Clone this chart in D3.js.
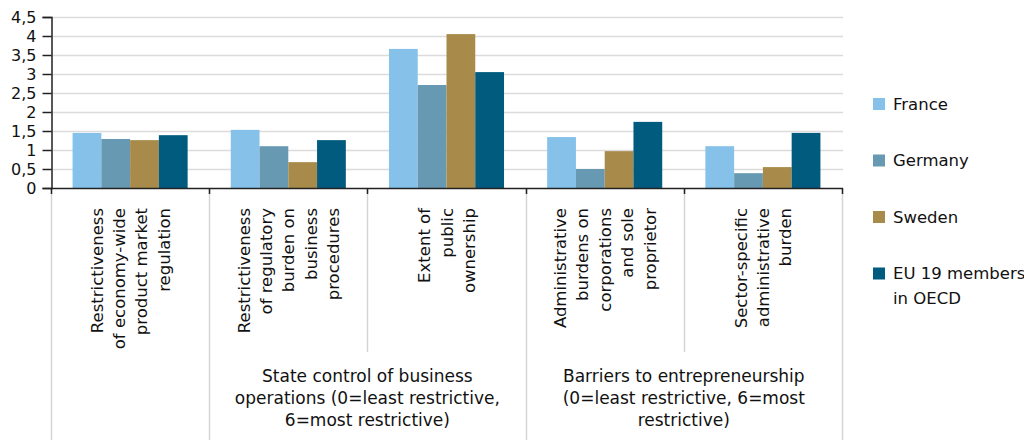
<!DOCTYPE html>
<html><head><meta charset="utf-8">
<script src="https://cdn.jsdelivr.net/npm/d3@7"></script>
<style>body{margin:0;background:#fff}svg{display:block}</style>
</head><body><svg id="c" width="1024" height="440"></svg>
<script>
// ---- data ----
const categoryLines = [
  ["Restrictiveness","of economy-wide","product market","regulation"],
  ["Restrictiveness","of regulatory","burden on","business","procedures"],
  ["Extent of","public","ownership"],
  ["Administrative","burdens on","corporations","and sole","proprietor"],
  ["Sector-specific","administrative","burden"]
];
const seriesNames = ["France","Germany","Sweden","EU 19 members in OECD"];
const legendLines = [["France"],["Germany"],["Sweden"],["EU 19 members","in OECD"]];
const france  = [1.45, 1.53, 3.66, 1.34, 1.10];
const germany = [1.29, 1.10, 2.71, 0.50, 0.39];
const sweden  = [1.26, 0.68, 4.05, 0.97, 0.55];
const eu19    = [1.39, 1.26, 3.05, 1.74, 1.45];
const seriesColors = ["#85c1e9", "#6899b2", "#a88a4a", "#005b7e"];
const yTicks = [0, 0.5, 1, 1.5, 2, 2.5, 3, 3.5, 4, 4.5];
const yTickLabels = ["0","0,5","1","1,5","2","2,5","3","3,5","4","4,5"];
const groupLines = [
  ["State control of business","operations (0=least restrictive,","6=most restrictive)"],
  ["Barriers to entrepreneurship","(0=least restrictive, 6=most","restrictive)"]
];
const groupSpans = [[1, 2], [3, 4]]; // category index ranges
const subSeparators = [2, 4]; // boundaries (left side of category) that stop short

// ---- layout ----
const W = 1024, H = 440;
const plotLeft = 51, plotRight = 842, plotTop = 17, zeroY = 188;
const FONT = "DejaVu Sans";
const svg = d3.select("#c");
const seriesData = [france, germany, sweden, eu19];
const catIdx = d3.range(categoryLines.length);

const x = d3.scaleBand().domain(catIdx).range([plotLeft, plotRight]).paddingInner(0).paddingOuter(0);
const xs = d3.scaleBand().domain(d3.range(seriesNames.length)).range([0, x.bandwidth()]).paddingInner(0).paddingOuter(0.75);
const y = d3.scaleLinear().domain([0, 4.5]).range([zeroY, plotTop]);

// gridlines
svg.append("g").selectAll("line").data(yTicks.filter(d => d > 0)).join("line")
  .attr("x1", plotLeft).attr("x2", plotRight + 1)
  .attr("y1", d => Math.round(y(d)) + 0.5).attr("y2", d => Math.round(y(d)) + 0.5)
  .attr("stroke", "#dcdcdc").attr("stroke-width", 1.5);

// bars
const gBars = svg.append("g");
seriesData.forEach((vals, s) => {
  gBars.append("g").selectAll("rect").data(vals).join("rect")
    .attr("x", (d, i) => x(i) + xs(s))
    .attr("width", xs.bandwidth())
    .attr("y", d => y(d))
    .attr("height", d => y(0) - y(d))
    .attr("fill", seriesColors[s]);
});

// vertical separators below axis
const boundaries = d3.range(categoryLines.length + 1);
const bx = b => b < categoryLines.length ? x(b) : x(b - 1) + x.bandwidth();
svg.append("g").selectAll("line").data(boundaries).join("line")
  .attr("x1", b => Math.round(bx(b)) + 0.5).attr("x2", b => Math.round(bx(b)) + 0.5)
  .attr("y1", zeroY).attr("y2", b => subSeparators.includes(b) ? 352 : H)
  .attr("stroke", "#d4d4d4").attr("stroke-width", 1.5);
// dark ticks
svg.append("g").selectAll("line").data(boundaries).join("line")
  .attr("x1", b => Math.round(bx(b)) + 0.5).attr("x2", b => Math.round(bx(b)) + 0.5)
  .attr("y1", zeroY).attr("y2", zeroY + 6)
  .attr("stroke", "#222").attr("stroke-width", 1.5);

// x axis line
svg.append("line").attr("x1", plotLeft).attr("x2", plotRight + 1)
  .attr("y1", zeroY + 0.5).attr("y2", zeroY + 0.5)
  .attr("stroke", "#222").attr("stroke-width", 1.5);

// y axis
const yAxis = d3.axisLeft(y).tickValues(yTicks)
  .tickFormat((d, i) => yTickLabels[i]).tickSize(9).tickPadding(6);
const gy = svg.append("g").attr("transform", `translate(${plotLeft + 0.5},0)`).call(yAxis);
gy.select(".domain").attr("stroke", "#222").attr("stroke-width", 1.5);
gy.selectAll(".tick line").attr("stroke", "#222").attr("stroke-width", 1.5);
gy.selectAll(".tick text").attr("font-family", FONT).attr("font-size", 16).attr("fill", "#111");

// rotated category labels
const lh = 22.4;
catIdx.forEach(i => {
  const lines = categoryLines[i];
  const cx = x(i) + x.bandwidth() / 2;
  const n = lines.length;
  lines.forEach((t, k) => {
    const lx = cx + (k - (n - 1) / 2) * lh + 6;
    svg.append("text")
      .attr("transform", `translate(${lx},${zeroY + 20}) rotate(-90)`)
      .attr("text-anchor", "end")
      .attr("font-family", FONT).attr("font-size", 16.5).attr("fill", "#111")
      .text(t);
  });
});

// group labels
groupLines.forEach((lines, g) => {
  const [a, b] = groupSpans[g];
  const cx = (x(a) + x(b) + x.bandwidth()) / 2;
  lines.forEach((t, k) => {
    svg.append("text").attr("x", cx).attr("y", 382 + k * 22)
      .attr("text-anchor", "middle")
      .attr("font-family", FONT).attr("font-size", 17).attr("fill", "#111")
      .text(t);
  });
});

// legend
const legY = d3.scalePoint().domain(d3.range(seriesNames.length)).range([98, 267.5]);
seriesNames.forEach((name, s) => {
  const ty = legY(s);
  svg.append("rect").attr("x", 873).attr("y", ty).attr("width", 12).attr("height", 12)
    .attr("fill", seriesColors[s]);
  legendLines[s].forEach((t, k) => {
    svg.append("text").attr("x", 893).attr("y", ty + 11.5 + k * 24.7)
      .attr("font-family", FONT).attr("font-size", 16.5).attr("fill", "#111")
      .text(t);
  });
});
</script>
</body></html>
